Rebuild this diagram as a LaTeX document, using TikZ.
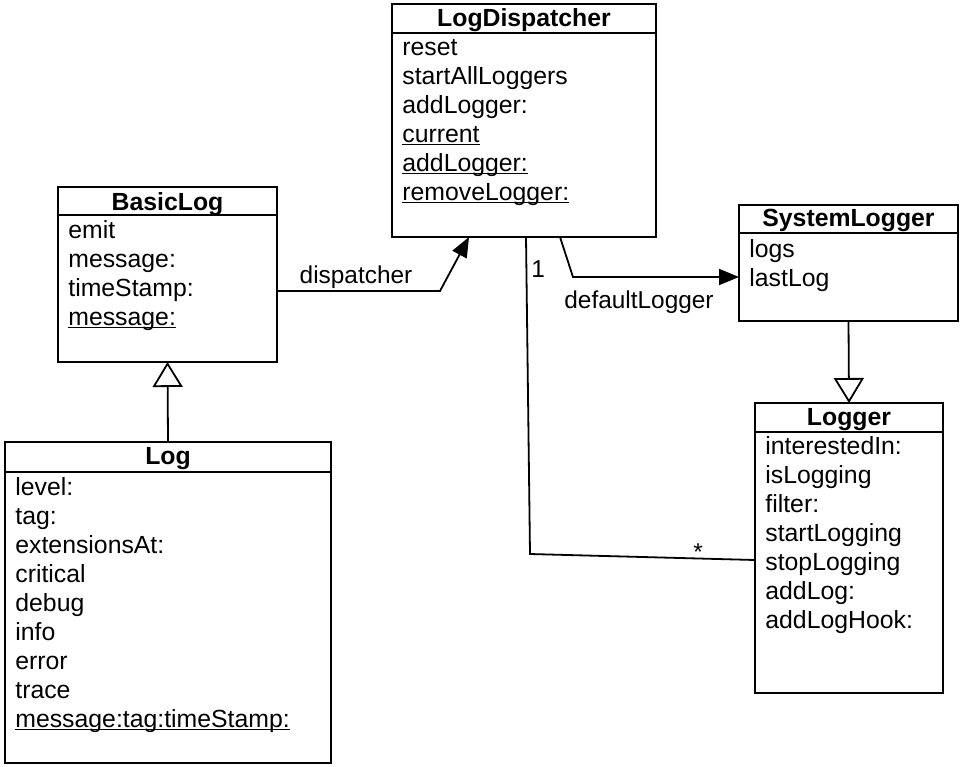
\documentclass[tikz,border=0pt]{standalone}
\usepackage{fontspec}
\setmainfont{Liberation Sans}
\usetikzlibrary{arrows.meta,calc}
\newcommand\ulin[1]{\setbox0\hbox{#1}\rlap{\rule[-1.7pt]{\wd0}{0.6pt}}\box0}
\begin{document}
\begin{tikzpicture}[x=0.5pt,y=-0.5pt,
  cls/.style={draw, line width=1pt, anchor=north west, inner sep=0pt, outer sep=0pt},
  hdr/.style={line width=1pt},
  ttl/.style={font=\fontsize{12.4}{14}\selectfont\bfseries, anchor=base, inner sep=0pt},
  item/.style={font=\fontsize{12.4}{14}\selectfont, anchor=base west, inner sep=0pt},
  lbl/.style={font=\fontsize{12.2}{14}\selectfont, inner sep=0pt},
  conn/.style={line width=0.9pt},
  assoc/.style={conn, -{Triangle[width=8pt,length=10pt]}},
  gen/.style={conn, -{Triangle[open,width=15pt,length=12.5pt,line width=0.9pt]}}
]
\path[use as bounding box] (0,0) rectangle (962,766);

% LogDispatcher
\node[cls, minimum width=132pt, minimum height=116.5pt] (ld) at (392,4) {};
\draw[hdr] ([yshift=-14.5pt]ld.north west) -- ([yshift=-14.5pt]ld.north east);
\node[ttl] (ldt) at (524,26) {LogDispatcher};
\node[item] (ld1) at (402,55) {reset};
\node[item] (ld2) at (402,84) {startAllLoggers};
\node[item] (ld3) at (402,113) {addLogger:};
\node[item] (ld4) at (402,142) {\ulin{current}};
\node[item] (ld5) at (402,171) {\ulin{addLogger:}};
\node[item] (ld6) at (402,200) {\ulin{removeLogger:}};

% BasicLog
\node[cls, minimum width=109.5pt, minimum height=87.5pt] (bl) at (58,187) {};
\draw[hdr] ([yshift=-14pt]bl.north west) -- ([yshift=-14pt]bl.north east);
\node[ttl] (blt) at (167.5,210) {BasicLog};
\node[item] (bl1) at (68,238) {emit};
\node[item] (bl2) at (68,267) {message:};
\node[item] (bl3) at (68,296) {timeStamp:};
\node[item] (bl4) at (68,325) {\ulin{message:}};

% Log
\node[cls, minimum width=163pt, minimum height=160.5pt] (lg) at (5,442) {};
\draw[hdr] ([yshift=-15pt]lg.north west) -- ([yshift=-15pt]lg.north east);
\node[ttl] (lgt) at (168,464) {Log};
\node[item] (lg1) at (15,495) {level:};
\node[item] (lg2) at (15,524) {tag:};
\node[item] (lg3) at (15,553) {extensionsAt:};
\node[item] (lg4) at (15,582) {critical};
\node[item] (lg5) at (15,611) {debug};
\node[item] (lg6) at (15,640) {info};
\node[item] (lg7) at (15,669) {error};
\node[item] (lg8) at (15,698) {trace};
\node[item] (lg9) at (15,727) {\ulin{message:tag:timeStamp:}};

% SystemLogger
\node[cls, minimum width=109.5pt, minimum height=58pt] (sl) at (739,205) {};
\draw[hdr] ([yshift=-14pt]sl.north west) -- ([yshift=-14pt]sl.north east);
\node[ttl] (slt) at (848.5,226) {SystemLogger};
\node[item] (sl1) at (749,257) {logs};
\node[item] (sl2) at (749,286) {lastLog};

% Logger
\node[cls, minimum width=94pt, minimum height=145pt] (lo) at (755,403) {};
\draw[hdr] ([yshift=-14.5pt]lo.north west) -- ([yshift=-14.5pt]lo.north east);
\node[ttl] (lot) at (849,425) {Logger};
\node[item] (lo1) at (765,454) {interestedIn:};
\node[item] (lo2) at (765,483) {isLogging};
\node[item] (lo3) at (765,512) {filter:};
\node[item] (lo4) at (765,541) {startLogging};
\node[item] (lo5) at (765,570) {stopLogging};
\node[item] (lo6) at (765,599) {addLog:};
\node[item] (lo7) at (765,628) {addLogHook:};

% connectors
\draw[assoc] ($(bl.north east)+(0,104)$) -- ++(163,0) -- ($(ld.south west)+(77,0)$);
\node[lbl, anchor=base] (ldisp) at (356,283) {dispatcher};

\draw[conn] ($(ld.south west)+(134,0)$) -- (530,554) -- ($(lo.north west)+(0,157)$);
\node[lbl, anchor=base west] (m1) at (531,277) {1};
\node[lbl, anchor=north] (m2) at (698,543) {*};

\draw[assoc] ($(ld.south west)+(168,0)$) -- (573,277) -- ($(sl.north west)+(0,72)$);
\node[lbl, anchor=base] (ldef) at (639,308) {defaultLogger};

\draw[gen] (sl.south) -- (lo.north);
\draw[gen] (lg.north) -- (bl.south);
\end{tikzpicture}
\end{document}
